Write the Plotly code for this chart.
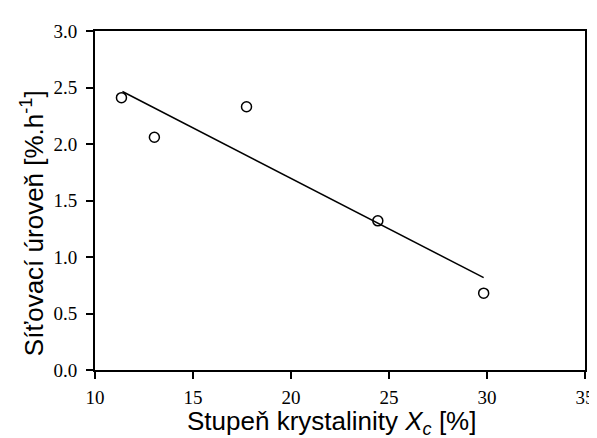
import plotly.graph_objects as go

# measured points
crystallinity = [11.35, 13.03, 17.73, 24.43, 29.83]
crosslink_rate = [2.41, 2.06, 2.33, 1.32, 0.68]

# linear fit, end points
fit_x = [11.4, 29.83]
fit_y = [2.465, 0.817]

x_ticks = [10, 15, 20, 25, 30, 35]
y_ticks = [0.0, 0.5, 1.0, 1.5, 2.0, 2.5, 3.0]

x_title = 'Stupeň krystalinity <i>X<sub>c</sub></i> [%]'
y_title = 'Síťovací úroveň [%.h<sup>-1</sup>]'

fig = go.Figure()
fig.add_trace(go.Scatter(x=fit_x, y=fit_y, mode='lines',
                         line={'color': 'black', 'width': 1.5},
                         showlegend=False))
fig.add_trace(go.Scatter(x=crystallinity, y=crosslink_rate, mode='markers',
                         marker={'symbol': 'circle-open', 'size': 10, 'color': 'black',
                                 'line': {'width': 1.5, 'color': 'black'}},
                         showlegend=False))

axis_common = dict(showgrid=False, zeroline=False, showline=True, linecolor='black',
                   linewidth=2, mirror=True, ticks='outside', ticklen=7, tickwidth=1.5,
                   tickcolor='black',
                   tickfont={'family': 'Liberation Serif', 'size': 19, 'color': 'black'})

title_font = {'family': 'Liberation Sans', 'size': 26, 'color': 'black'}

fig.update_layout(
    width=597, height=438,
    margin={'l': 87, 'r': 10, 't': 23, 'b': 76},
    plot_bgcolor='white', paper_bgcolor='white',
    xaxis=dict(axis_common, range=[10, 35], tickvals=x_ticks, ticklabelstandoff=2),
    yaxis=dict(axis_common, range=[0, 3], tickvals=y_ticks, tickformat='.1f',
               ticklabelstandoff=5),
    annotations=[
        dict(text=x_title, xref='paper', yref='paper', x=0.483, y=-0.156,
             xanchor='center', yanchor='middle', showarrow=False, font=title_font),
        dict(text=y_title, xref='paper', yref='paper', x=-0.126, y=0.434,
             xanchor='center', yanchor='middle', textangle=-90, showarrow=False,
             font=title_font),
    ],
)

fig.write_html("out.html")
